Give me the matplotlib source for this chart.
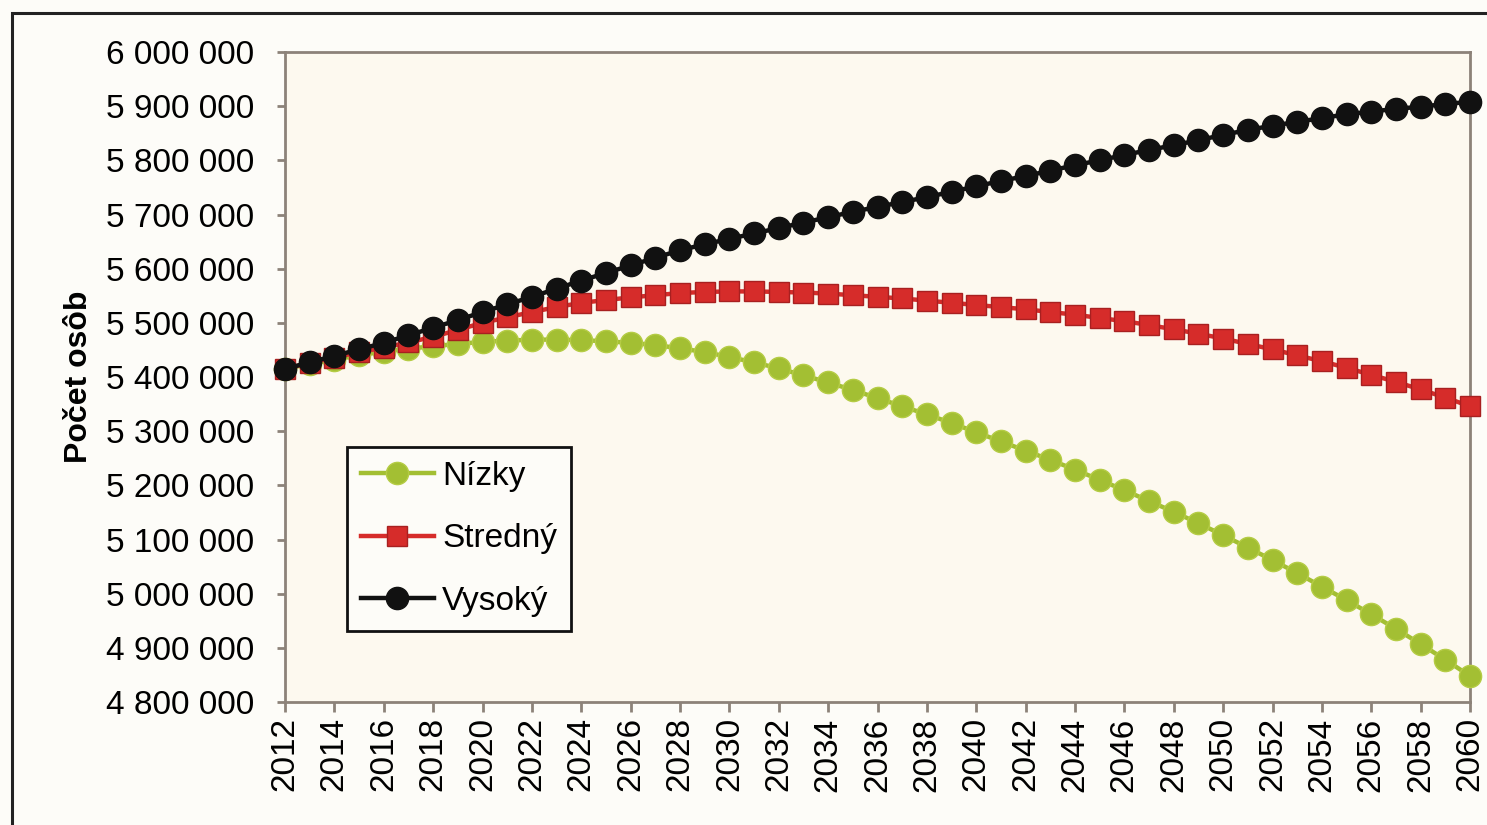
import matplotlib
matplotlib.use("Agg")
import matplotlib.pyplot as plt
import matplotlib.ticker as ticker
from matplotlib.patches import Rectangle

plt.rcParams['font.family'] = ['Liberation Sans', 'DejaVu Sans']

# roky projekcie
years = list(range(2012, 2061))

# scenare (pocet osob, v tisicoch odcitane z grafu)
nizky = [5415, 5424, 5432, 5440, 5447, 5452, 5457, 5461, 5465, 5467,
         5469, 5469, 5468, 5466, 5463, 5459, 5453, 5446, 5437, 5427,
         5416, 5403, 5390, 5376, 5361, 5346, 5331, 5315, 5298, 5281,
         5264, 5247, 5229, 5210, 5191, 5171, 5151, 5130, 5108, 5085,
         5062, 5038, 5013, 4988, 4962, 4935, 4907, 4878, 4848]
stredny = [5415, 5426, 5436, 5446, 5454, 5464, 5474, 5487, 5500, 5510,
           5520, 5529, 5537, 5542, 5547, 5551, 5555, 5557, 5558, 5558,
           5557, 5556, 5554, 5551, 5548, 5545, 5541, 5537, 5533, 5529,
           5525, 5520, 5515, 5509, 5503, 5496, 5488, 5480, 5471, 5461,
           5451, 5440, 5429, 5417, 5404, 5391, 5377, 5362, 5346]
vysoky = [5415, 5427, 5439, 5451, 5463, 5477, 5491, 5505, 5520, 5534,
          5548, 5563, 5578, 5592, 5606, 5620, 5634, 5645, 5655, 5665,
          5675, 5685, 5695, 5705, 5714, 5723, 5732, 5742, 5752, 5762,
          5771, 5781, 5791, 5800, 5810, 5819, 5828, 5837, 5847, 5856,
          5864, 5871, 5878, 5885, 5890, 5895, 5899, 5904, 5908]

y_ticks = [4800000 + 100000 * i for i in range(13)]

fig = plt.figure(figsize=(14.87, 8.25), dpi=100)
fig.patch.set_facecolor('#fdfcf8')

# vonkajsi ramik
fig.patches.append(Rectangle((12 / 1487, -0.1), 1.2, 1.1 - 13 / 825,
                             transform=fig.transFigure, fill=False,
                             edgecolor='#222222', linewidth=2.2))

ax = fig.add_axes([285 / 1487, 1 - 702 / 825, 1185 / 1487, 650 / 825])
ax.set_facecolor('#fdf9ef')

ax.plot(years, [v * 1000 for v in nizky], color='#a3bf33', linewidth=3.2,
        marker='o', markersize=16, markeredgecolor='#b5cc45',
        markerfacecolor='#a3bf33', label='Nízky', clip_on=False, zorder=3)
ax.plot(years, [v * 1000 for v in stredny], color='#d62c2a', linewidth=3.2,
        marker='s', markersize=14, markeredgecolor='#a82020',
        markerfacecolor='#d62c2a', label='Stredný', clip_on=False, zorder=4)
ax.plot(years, [v * 1000 for v in vysoky], color='#111111', linewidth=3.2,
        marker='o', markersize=16, markeredgecolor='#111111',
        markerfacecolor='#111111', label='Vysoký', clip_on=False, zorder=5)

ax.set_xlim(2012, 2060)
ax.set_ylim(4800000, 6000000)
ax.set_yticks(y_ticks)
ax.yaxis.set_major_formatter(ticker.FuncFormatter(
    lambda v, p: f"{int(v):,}".replace(",", " ")))
ax.set_xticks(list(range(2012, 2061, 2)))
ax.tick_params(axis='x', labelrotation=90, labelsize=24, length=7,
               width=2, color='#8c8279', pad=4)
ax.tick_params(axis='y', labelsize=24, length=6, width=2,
               color='#8c8279', pad=16)

for s in ax.spines.values():
    s.set_color('#8c8279')
    s.set_linewidth(2)

ax.set_ylabel('Počet osôb', fontsize=23, fontweight='bold')
ax.yaxis.set_label_coords(-0.161, 0.5)

leg = ax.legend(loc='lower left', bbox_to_anchor=(0.052, 0.109),
                borderaxespad=0, fontsize=24, labelspacing=0.95,
                handlelength=2.2, handletextpad=0.24, borderpad=0.42,
                fancybox=False, framealpha=1, facecolor='#fdfcf8',
                edgecolor='#111111')
leg.get_frame().set_linewidth(2)

fig.savefig('out.png', dpi=100, facecolor=fig.get_facecolor())
